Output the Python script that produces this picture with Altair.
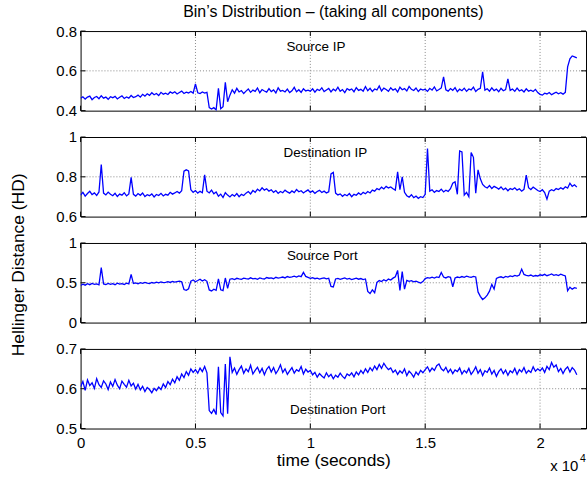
import altair as alt
import pandas as pd

FONT = "Liberation Sans"
STEP = 100  # seconds between samples

# ---------------- data ----------------
source_ip = [
    0.462, 0.470, 0.458, 0.468, 0.473, 0.455, 0.466, 0.471, 0.460, 0.475,
    0.463, 0.468, 0.457, 0.470, 0.465, 0.472, 0.459, 0.467, 0.474, 0.461,
    0.469, 0.463, 0.476, 0.466, 0.470,
    0.478, 0.468, 0.482, 0.473, 0.485, 0.477, 0.490, 0.480, 0.486, 0.476,
    0.492, 0.483, 0.488, 0.481, 0.494,
    0.487, 0.495, 0.484, 0.491, 0.498, 0.486, 0.493, 0.489, 0.496, 0.488,
    0.535,
    0.490, 0.486, 0.494, 0.488, 0.492,
    0.415, 0.408, 0.415, 0.404, 0.512, 0.410, 0.420, 0.542, 0.445, 0.478,
    0.505, 0.488, 0.512, 0.494, 0.501, 0.486, 0.498, 0.509, 0.492, 0.503,
    0.497, 0.514, 0.490, 0.506, 0.499, 0.493, 0.511, 0.496, 0.504, 0.489,
    0.515, 0.498, 0.502, 0.494, 0.508, 0.491, 0.500, 0.517, 0.495, 0.505,
    0.492, 0.510, 0.499, 0.503,
    0.498, 0.510, 0.493, 0.507, 0.501, 0.515, 0.496, 0.504, 0.512, 0.494,
    0.508, 0.500, 0.518, 0.497, 0.506, 0.491, 0.511, 0.503, 0.509, 0.495,
    0.516, 0.502, 0.507, 0.498, 0.521, 0.500, 0.512, 0.496, 0.509, 0.504,
    0.524, 0.499, 0.513, 0.506, 0.497, 0.515, 0.503, 0.510, 0.494, 0.518,
    0.505, 0.511, 0.499, 0.522, 0.507, 0.501, 0.514, 0.496, 0.509, 0.503,
    0.508, 0.497, 0.512, 0.503, 0.519, 0.499, 0.506, 0.514, 0.570,
    0.505, 0.498, 0.511, 0.502, 0.516, 0.495, 0.508, 0.500, 0.513, 0.497,
    0.509, 0.504, 0.518, 0.496, 0.507, 0.512, 0.595,
    0.503, 0.510, 0.498, 0.515, 0.501, 0.508, 0.495, 0.512, 0.500, 0.506,
    0.560,
    0.502, 0.509, 0.497, 0.513, 0.499, 0.505, 0.494, 0.510, 0.498, 0.503,
    0.496, 0.507, 0.491,
    0.482, 0.478, 0.488, 0.484, 0.491, 0.480, 0.487, 0.493, 0.485, 0.490,
    0.483, 0.492,
    0.620, 0.660, 0.675, 0.670, 0.665,
]

destination_ip = [
    0.708, 0.722, 0.703, 0.716, 0.727, 0.711, 0.719, 0.706, 0.724,
    0.862,
    0.718, 0.709, 0.723, 0.712, 0.705, 0.717, 0.701, 0.713, 0.708, 0.720,
    0.704, 0.714,
    0.797,
    0.712, 0.703, 0.716, 0.707, 0.719, 0.701, 0.710, 0.705, 0.714, 0.699,
    0.711, 0.706, 0.717, 0.704, 0.712, 0.708, 0.722, 0.713, 0.719, 0.726,
    0.718, 0.730,
    0.828, 0.835, 0.830,
    0.735, 0.722, 0.731, 0.718, 0.727, 0.720,
    0.810,
    0.728, 0.719, 0.733, 0.715, 0.724, 0.702, 0.713, 0.696, 0.720, 0.708,
    0.699, 0.711, 0.703, 0.716, 0.700, 0.712, 0.706,
    0.718, 0.726, 0.714, 0.731, 0.722, 0.738, 0.729, 0.745, 0.733, 0.740,
    0.728, 0.735, 0.722, 0.731, 0.717, 0.726, 0.720, 0.733, 0.724, 0.718,
    0.729, 0.721, 0.736, 0.725, 0.730, 0.719, 0.727, 0.734, 0.722, 0.729,
    0.717, 0.726, 0.732, 0.721, 0.728, 0.719, 0.725,
    0.815, 0.822,
    0.718, 0.709, 0.714, 0.702, 0.711, 0.705, 0.716, 0.700, 0.712, 0.707,
    0.719, 0.710, 0.722, 0.715,
    0.726, 0.719, 0.733, 0.728, 0.741, 0.735, 0.748, 0.739, 0.752, 0.744,
    0.749, 0.740, 0.733,
    0.825, 0.735, 0.800, 0.722,
    0.705, 0.698, 0.710, 0.695, 0.703, 0.692, 0.700, 0.696, 0.712,
    0.942,
    0.728, 0.735, 0.722, 0.731, 0.726, 0.738, 0.724, 0.733, 0.727, 0.740,
    0.768, 0.775,
    0.712, 0.930, 0.925, 0.708, 0.722, 0.700, 0.922, 0.898, 0.718,
    0.835, 0.790, 0.762,
    0.750, 0.744, 0.756, 0.741, 0.752, 0.746, 0.738, 0.749, 0.735, 0.743,
    0.730, 0.741, 0.736, 0.745, 0.733, 0.740, 0.728, 0.737,
    0.808,
    0.745, 0.736, 0.748, 0.740, 0.731, 0.726, 0.735, 0.721,
    0.688,
    0.728, 0.735, 0.730, 0.741, 0.736, 0.745, 0.738, 0.750, 0.743, 0.768,
    0.752, 0.760, 0.748,
]

source_port = [
    0.465, 0.482, 0.470, 0.488, 0.476, 0.491, 0.479, 0.486, 0.474,
    0.690,
    0.485, 0.478, 0.492, 0.481, 0.489, 0.476, 0.494, 0.483, 0.490, 0.479,
    0.496, 0.487,
    0.605,
    0.490, 0.498, 0.486, 0.501, 0.493, 0.505, 0.495, 0.489, 0.503, 0.497,
    0.508, 0.499, 0.511, 0.502, 0.506, 0.514, 0.504, 0.518, 0.509, 0.515,
    0.521, 0.512,
    0.415, 0.405, 0.425,
    0.520, 0.535, 0.512, 0.528, 0.545, 0.522, 0.538, 0.518,
    0.410, 0.398, 0.420, 0.405, 0.550, 0.412, 0.402,
    0.560, 0.430,
    0.545, 0.552, 0.540, 0.556, 0.548, 0.543, 0.559, 0.551, 0.546, 0.562,
    0.549, 0.555, 0.544, 0.560, 0.553, 0.548, 0.566, 0.557, 0.562, 0.551,
    0.569, 0.559, 0.565, 0.572, 0.561, 0.578, 0.568, 0.575, 0.583, 0.571,
    0.586, 0.577,
    0.630,
    0.580, 0.568, 0.556, 0.563, 0.551, 0.559, 0.547, 0.555, 0.561, 0.549,
    0.557,
    0.455, 0.448,
    0.548, 0.556, 0.543, 0.552, 0.560, 0.547, 0.555, 0.541, 0.550, 0.558,
    0.545, 0.553, 0.540, 0.548,
    0.392, 0.365, 0.410, 0.375,
    0.505, 0.528, 0.515, 0.538, 0.522, 0.546, 0.535, 0.558, 0.575,
    0.655, 0.405, 0.640, 0.420,
    0.530, 0.518, 0.526, 0.512, 0.521, 0.508, 0.497, 0.515,
    0.552, 0.565, 0.558, 0.571, 0.560, 0.574, 0.566, 0.630, 0.572, 0.561,
    0.577, 0.568,
    0.450, 0.560,
    0.572, 0.564, 0.578, 0.569, 0.583, 0.574, 0.568, 0.580, 0.573,
    0.385, 0.330, 0.290, 0.310, 0.345, 0.395, 0.480, 0.420,
    0.555, 0.568, 0.575, 0.562, 0.580, 0.571, 0.586, 0.577, 0.592, 0.583,
    0.598, 0.672, 0.605, 0.594, 0.588, 0.597, 0.582, 0.591, 0.585,
    0.600, 0.592, 0.606, 0.589, 0.598, 0.611, 0.594, 0.603, 0.590, 0.608,
    0.596, 0.585,
    0.400, 0.445, 0.420, 0.438, 0.430,
]

destination_port = [
    0.605, 0.618, 0.596, 0.622, 0.608, 0.615, 0.601, 0.625, 0.610, 0.603,
    0.620, 0.612, 0.598, 0.617, 0.606, 0.623, 0.609, 0.600, 0.619, 0.611,
    0.604, 0.621, 0.607, 0.614, 0.599,
    0.611, 0.597, 0.606, 0.593, 0.603, 0.598, 0.590, 0.601, 0.595, 0.604,
    0.598, 0.612, 0.603, 0.618, 0.610, 0.624, 0.615, 0.630, 0.621, 0.637,
    0.628, 0.643, 0.634, 0.650, 0.641,
    0.648, 0.639, 0.652, 0.643, 0.656, 0.640,
    0.545, 0.538, 0.548, 0.535, 0.655, 0.540, 0.532, 0.662, 0.537, 0.680,
    0.641, 0.652, 0.636, 0.648, 0.657, 0.639, 0.650, 0.643, 0.659, 0.637,
    0.646, 0.654, 0.640, 0.651, 0.635, 0.649, 0.656, 0.642, 0.653, 0.638,
    0.647, 0.660, 0.641, 0.650, 0.636, 0.645, 0.653, 0.639, 0.648, 0.644,
    0.656, 0.637, 0.649, 0.642,
    0.646, 0.635, 0.641, 0.629, 0.638, 0.632, 0.627, 0.640, 0.630, 0.636,
    0.625, 0.634, 0.629, 0.639, 0.631, 0.626, 0.637, 0.633, 0.640, 0.630,
    0.642, 0.635, 0.646, 0.638, 0.650, 0.641, 0.653, 0.645, 0.657, 0.648,
    0.661, 0.651, 0.664, 0.655, 0.648,
    0.652, 0.641, 0.647, 0.636, 0.645, 0.639, 0.650, 0.633, 0.644, 0.638,
    0.629, 0.642, 0.635, 0.646, 0.640,
    0.648, 0.655, 0.643, 0.652, 0.646, 0.658, 0.662, 0.650, 0.645, 0.654,
    0.641, 0.649, 0.638, 0.647, 0.643, 0.652,
    0.637, 0.646, 0.640, 0.651, 0.636, 0.644, 0.655, 0.639, 0.648, 0.633,
    0.645, 0.641, 0.652, 0.637, 0.646, 0.631, 0.643, 0.650, 0.638, 0.647,
    0.634, 0.645, 0.640, 0.651, 0.636, 0.648, 0.642, 0.653, 0.639, 0.646,
    0.641, 0.655, 0.644, 0.650,
    0.645, 0.652, 0.641, 0.656, 0.648, 0.666, 0.654, 0.660, 0.643, 0.651,
    0.638, 0.649, 0.655, 0.642, 0.653, 0.647, 0.635,
]

x_ticks = [0, 5000, 10000, 15000, 20000]
x_grid = [5000, 10000, 15000, 20000]
x_domain = [0, 22000]

sip_ticks = [0.4, 0.6, 0.8]
dip_ticks = [0.6, 0.8, 1.0]
sport_ticks = [0.0, 0.5, 1.0]
dport_ticks = [0.5, 0.6, 0.7]

W, H = 508, 80
TICK = 5
BLUE = "#0000ff"
GRID = "#8a8a8a"


def panel(vals, ticks, name, lx, ly, bottom=False, extras=()):
    df = pd.DataFrame({"t": [i * STEP for i in range(len(vals))], "v": vals})
    xs = alt.Scale(domain=x_domain, nice=False, zero=False)
    ys = alt.Scale(domain=[ticks[0], ticks[-1]], nice=False, zero=False)
    if bottom:
        xaxis = alt.Axis(values=x_ticks, labelExpr="datum.value / 10000",
                         ticks=False, domain=False, grid=False, labelFlush=False,
                         labelPadding=7, labelFontSize=15, titleFontSize=17.5,
                         titlePadding=1, titleFontWeight="normal", labelOverlap=False)
        xq = alt.X("t:Q", scale=xs, axis=xaxis, title="time (seconds)")
    else:
        xq = alt.X("t:Q", scale=xs, axis=None)
    yaxis = alt.Axis(values=ticks, format="~g", ticks=False, domain=False,
                     grid=False, labelFlush=False, labelPadding=4,
                     labelFontSize=15, labelOverlap=False)
    yq = alt.Y("v:Q", scale=ys, axis=yaxis, title=None)

    line = alt.Chart(df).mark_line(color=BLUE, strokeWidth=1.3, clip=True).encode(x=xq, y=yq)

    xg = pd.DataFrame({"t": x_grid})
    yg = pd.DataFrame({"v": ticks[1:-1]})
    xt = pd.DataFrame({"t": x_ticks})
    yt = pd.DataFrame({"v": ticks})
    gx = alt.Chart(xg).mark_rule(color=GRID, strokeDash=[1, 2], strokeWidth=1).encode(x=xq)
    gy = alt.Chart(yg).mark_rule(color=GRID, strokeDash=[1, 2], strokeWidth=1).encode(y=yq)
    t_top = alt.Chart(xt).mark_rule(color="black").encode(x=xq, y=alt.value(0), y2=alt.value(TICK))
    t_bot = alt.Chart(xt).mark_rule(color="black").encode(x=xq, y=alt.value(H - TICK), y2=alt.value(H))
    t_left = alt.Chart(yt).mark_rule(color="black").encode(y=yq, x=alt.value(0), x2=alt.value(TICK))
    t_right = alt.Chart(yt).mark_rule(color="black").encode(y=yq, x=alt.value(W - TICK), x2=alt.value(W))
    lab = alt.Chart(pd.DataFrame({"s": [name]})).mark_text(
        font=FONT, fontSize=13.5, color="black", baseline="middle", align="center"
    ).encode(x=alt.value(lx), y=alt.value(ly), text="s:N")
    layers = [gx, gy, t_top, t_bot, t_left, t_right, line, lab] + list(extras)
    return alt.layer(*layers).properties(width=W, height=H)


title_layer = alt.Chart(pd.DataFrame({"s": ["Bin\u2019s Distribution \u2013 (taking all components)"]})).mark_text(
    font=FONT, fontSize=16, color="black", baseline="middle", align="center"
).encode(x=alt.value(W / 2), y=alt.value(-19), text="s:N")

ylab_layer = alt.Chart(pd.DataFrame({"s": ["Hellinger Distance (HD)"]})).mark_text(
    font=FONT, fontSize=17.5, color="black", baseline="middle", align="center", angle=270
).encode(x=alt.value(-61.5), y=alt.value(22), text="s:N")

x10_layer = alt.Chart(pd.DataFrame({"s": ["x 10"]})).mark_text(
    font=FONT, fontSize=15, color="black", baseline="middle", align="left"
).encode(x=alt.value(472), y=alt.value(118), text="s:N")
exp_layer = alt.Chart(pd.DataFrame({"s": ["4"]})).mark_text(
    font=FONT, fontSize=10.5, color="black", baseline="middle", align="left"
).encode(x=alt.value(502), y=alt.value(111), text="s:N")

p1 = panel(source_ip, sip_ticks, "Source IP", 236.5, 16.3, extras=[title_layer])
p2 = panel(destination_ip, dip_ticks, "Destination IP", 246, 16.3)
p3 = panel(source_port, sport_ticks, "Source Port", 243, 13, extras=[ylab_layer])
p4 = panel(destination_port, dport_ticks, "Destination Port", 258.5, 61.3,
           bottom=True, extras=[x10_layer, exp_layer])

chart = alt.vconcat(p1, p2, p3, p4, spacing=26.5, bounds="flush").properties(
    padding={"left": 9, "top": 2, "right": 0, "bottom": 0},
    background="white",
).configure_view(stroke="black", strokeWidth=1).configure_axis(
    labelFont=FONT, titleFont=FONT, labelColor="black", titleColor="black"
)

chart.save("out.html", embed_options={"renderer": "svg", "actions": False})
